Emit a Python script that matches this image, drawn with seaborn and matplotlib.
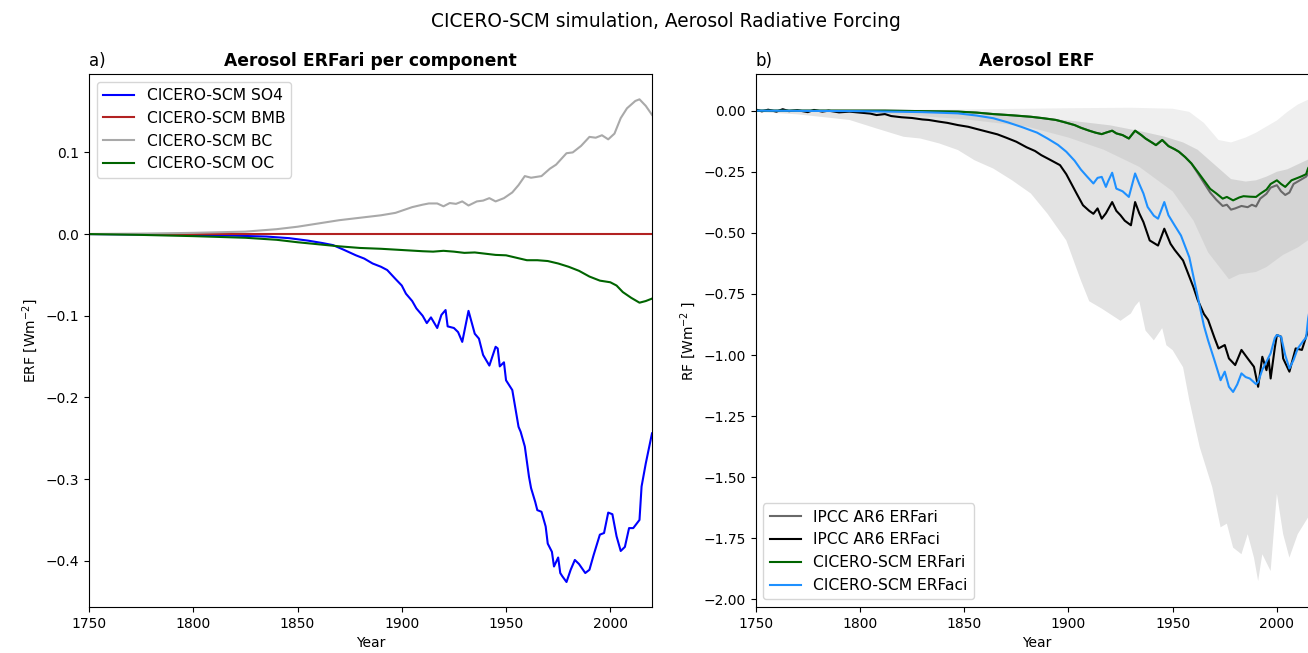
import numpy as np
import matplotlib
matplotlib.use("Agg")
import matplotlib.pyplot as plt
import seaborn as sns

# ---------------- data ----------------
# Panel a) CICERO-SCM ERFari per component
SO4_YEARS = [1750, 1775, 1800, 1820, 1835, 1846, 1855, 1862, 1867, 1872, 1878, 1882, 1886, 1890,
             1893, 1897, 1900, 1902, 1905, 1907, 1910, 1912, 1914, 1917, 1919, 1921, 1922, 1925,
             1927, 1929, 1932, 1935, 1937, 1939, 1942, 1945, 1946, 1947, 1949, 1950, 1953, 1956,
             1957, 1959, 1961, 1962, 1964, 1965, 1967, 1969, 1970, 1972, 1973, 1975, 1976, 1977,
             1979, 1981, 1983, 1985, 1988, 1990, 1992, 1995, 1997, 1999, 2001, 2003, 2005, 2007,
             2009, 2011, 2014, 2015, 2017, 2020]
SO4_ERF = [0.0, -0.0005, -0.001, -0.002, -0.003, -0.005, -0.008, -0.011, -0.0135, -0.019, -0.026,
           -0.030, -0.036, -0.040, -0.044, -0.055, -0.063, -0.073, -0.082, -0.091, -0.100, -0.109,
           -0.102, -0.115, -0.099, -0.093, -0.113, -0.115, -0.120, -0.132, -0.094, -0.122, -0.128,
           -0.148, -0.161, -0.138, -0.140, -0.162, -0.157, -0.179, -0.191, -0.236, -0.242, -0.260,
           -0.297, -0.311, -0.328, -0.338, -0.340, -0.358, -0.379, -0.389, -0.407, -0.396, -0.415,
           -0.419, -0.426, -0.411, -0.399, -0.404, -0.415, -0.411, -0.393, -0.368, -0.366, -0.341,
           -0.343, -0.370, -0.388, -0.383, -0.360, -0.360, -0.350, -0.309, -0.281, -0.244]

BMB_YEARS = [1750, 2020]
BMB_ERF = [0.0, 0.0]

BC_YEARS = [1750, 1775, 1800, 1825, 1840, 1850, 1860, 1870, 1880, 1890, 1897, 1905, 1910, 1913,
            1917, 1920, 1923, 1926, 1929, 1932, 1936, 1939, 1942, 1945, 1949, 1953, 1956, 1959,
            1962, 1967, 1971, 1974, 1979, 1982, 1986, 1990, 1993, 1996, 1999, 2002, 2005, 2008,
            2012, 2014, 2017, 2020]
BC_ERF = [0.0, 0.0005, 0.0015, 0.003, 0.006, 0.009, 0.013, 0.017, 0.020, 0.023, 0.026, 0.033,
          0.036, 0.0375, 0.0375, 0.034, 0.038, 0.037, 0.040, 0.035, 0.040, 0.041, 0.044, 0.040,
          0.044, 0.051, 0.060, 0.071, 0.069, 0.071, 0.080, 0.085, 0.099, 0.100, 0.108, 0.119,
          0.118, 0.121, 0.116, 0.123, 0.142, 0.154, 0.163, 0.165, 0.157, 0.146]

OC_YEARS = [1750, 1775, 1800, 1825, 1840, 1850, 1860, 1870, 1880, 1890, 1900, 1910, 1915, 1920,
            1925, 1930, 1935, 1940, 1945, 1950, 1955, 1960, 1965, 1970, 1975, 1980, 1985, 1990,
            1995, 2000, 2003, 2006, 2010, 2014, 2017, 2020]
OC_ERF = [0.0, -0.001, -0.0025, -0.0045, -0.007, -0.010, -0.0125, -0.015, -0.017, -0.018,
          -0.0195, -0.021, -0.0215, -0.0205, -0.0215, -0.023, -0.0225, -0.024, -0.0255, -0.026,
          -0.029, -0.032, -0.032, -0.033, -0.036, -0.040, -0.045, -0.052, -0.057, -0.059, -0.063,
          -0.071, -0.078, -0.084, -0.082, -0.079]

# Panel b) total aerosol ERF
CARI_YEARS = [1750, 1812, 1830, 1847, 1856, 1864, 1873, 1882, 1888, 1894, 1898, 1903, 1906, 1910,
              1913, 1916, 1918, 1921, 1923, 1926, 1929, 1932, 1935, 1937, 1940, 1942, 1945, 1948,
              1951, 1953, 1956, 1959, 1962, 1965, 1968, 1971, 1974, 1976, 1979, 1982, 1984, 1987,
              1990, 1992, 1995, 1997, 2000, 2002, 2004, 2007, 2010, 2012, 2014, 2015, 2017, 2020]
CARI_ERF = [0.0, 0.0, -0.002, -0.004, -0.008, -0.014, -0.019, -0.025, -0.031, -0.038, -0.047,
            -0.059, -0.070, -0.082, -0.090, -0.096, -0.090, -0.082, -0.093, -0.100, -0.114, -0.082,
            -0.100, -0.114, -0.130, -0.141, -0.120, -0.145, -0.158, -0.168, -0.190, -0.216, -0.250,
            -0.285, -0.320, -0.339, -0.360, -0.353, -0.367, -0.355, -0.350, -0.352, -0.353, -0.340,
            -0.323, -0.300, -0.285, -0.300, -0.312, -0.285, -0.275, -0.268, -0.260, -0.235, -0.210,
            -0.180]

IARI_YEARS = [1750, 1812, 1830, 1847, 1856, 1864, 1873, 1882, 1888, 1894, 1898, 1903, 1906, 1910,
              1913, 1916, 1918, 1921, 1923, 1926, 1929, 1932, 1935, 1937, 1940, 1942, 1945, 1948,
              1951, 1953, 1956, 1959, 1962, 1965, 1968, 1971, 1974, 1976, 1978, 1980, 1983, 1986,
              1988, 1990, 1992, 1995, 1997, 2000, 2002, 2004, 2006, 2008, 2010, 2012, 2014, 2016,
              2019]
IARI_ERF = [0.0, 0.0, -0.002, -0.004, -0.008, -0.014, -0.019, -0.025, -0.031, -0.038, -0.047,
            -0.059, -0.070, -0.082, -0.090, -0.096, -0.090, -0.082, -0.093, -0.100, -0.114, -0.082,
            -0.100, -0.114, -0.130, -0.141, -0.120, -0.145, -0.158, -0.168, -0.190, -0.216, -0.255,
            -0.295, -0.335, -0.365, -0.390, -0.385, -0.405, -0.400, -0.390, -0.395, -0.385, -0.392,
            -0.360, -0.340, -0.315, -0.305, -0.330, -0.345, -0.335, -0.300, -0.290, -0.280, -0.270,
            -0.245, -0.220]

IACI_YEARS = [1750, 1753, 1756, 1760, 1763, 1766, 1770, 1775, 1778, 1782, 1785, 1790, 1795, 1800,
              1805, 1808, 1812, 1815, 1820, 1825, 1830, 1833, 1838, 1842, 1847, 1852, 1856, 1861,
              1866, 1870, 1875, 1880, 1884, 1887, 1891, 1896, 1899, 1901, 1904, 1907, 1910, 1912,
              1914, 1916, 1918, 1921, 1923, 1925, 1927, 1930, 1932, 1934, 1936, 1939, 1943, 1946,
              1949, 1951, 1955, 1960, 1962, 1965, 1967, 1970, 1972, 1975, 1977, 1980, 1983, 1986,
              1989, 1991, 1993, 1995, 1996, 1997, 1999, 2000, 2002, 2003, 2006, 2009, 2012, 2014,
              2016, 2019]
IACI_ERF = [0.005, -0.003, 0.004, -0.004, 0.006, -0.002, 0.002, -0.006, 0.003, -0.004, 0.0,
            -0.007, -0.004, -0.008, -0.012, -0.018, -0.014, -0.022, -0.027, -0.030, -0.036, -0.038,
            -0.045, -0.050, -0.059, -0.066, -0.075, -0.086, -0.097, -0.110, -0.127, -0.150, -0.165,
            -0.182, -0.200, -0.223, -0.260, -0.292, -0.340, -0.387, -0.410, -0.422, -0.400, -0.442,
            -0.420, -0.374, -0.410, -0.428, -0.450, -0.469, -0.374, -0.420, -0.456, -0.531, -0.552,
            -0.483, -0.545, -0.570, -0.613, -0.723, -0.774, -0.832, -0.856, -0.928, -0.973, -0.959,
            -1.014, -1.041, -0.979, -1.014, -1.048, -1.130, -1.007, -1.062, -1.014, -1.096, -0.970,
            -0.918, -0.925, -1.014, -1.068, -0.973, -0.979, -0.925, -0.880, -0.840]

CACI_YEARS = [1750, 1800, 1830, 1847, 1856, 1864, 1871, 1878, 1885, 1890, 1895, 1899, 1903, 1906,
              1909, 1912, 1914, 1916, 1918, 1919, 1921, 1923, 1926, 1929, 1932, 1934, 1936, 1938,
              1941, 1943, 1946, 1948, 1951, 1954, 1958, 1960, 1963, 1965, 1967, 1970, 1973, 1975,
              1977, 1979, 1981, 1983, 1985, 1987, 1990, 1991, 1993, 1995, 1997, 1999, 2000, 2002,
              2004, 2006, 2008, 2010, 2013, 2014, 2015, 2017, 2020]
CACI_ERF = [0.0, -0.002, -0.006, -0.011, -0.020, -0.031, -0.048, -0.068, -0.090, -0.114, -0.140,
            -0.168, -0.205, -0.241, -0.270, -0.298, -0.275, -0.271, -0.312, -0.290, -0.254, -0.319,
            -0.330, -0.353, -0.257, -0.300, -0.339, -0.394, -0.430, -0.442, -0.374, -0.428, -0.470,
            -0.511, -0.600, -0.680, -0.800, -0.880, -0.940, -1.020, -1.103, -1.068, -1.130, -1.151,
            -1.120, -1.075, -1.090, -1.096, -1.119, -1.110, -1.060, -1.027, -0.993, -0.930, -0.918,
            -0.925, -1.000, -1.055, -1.020, -0.973, -0.938, -0.930, -0.850, -0.750, -0.620]

# uncertainty ranges (IPCC AR6, 5-95 %)
ARI_UP_YEARS = [1750, 1850, 1900, 1930, 1950, 1958, 1965, 1972, 1978, 1985, 1990, 1995, 2000,
                2005, 2010, 2015, 2020]
ARI_UP = [0.0, 0.005, 0.010, 0.012, 0.008, -0.005, -0.050, -0.120, -0.130, -0.110, -0.090,
          -0.065, -0.040, -0.005, 0.025, 0.045, 0.053]
ARI_LO_YEARS = [1750, 1800, 1850, 1880, 1900, 1917, 1934, 1950, 1960, 1967, 1977, 1982, 1990,
                1995, 2003, 2010, 2015, 2020]
ARI_LO = [0.0, -0.005, -0.035, -0.065, -0.110, -0.160, -0.230, -0.330, -0.450, -0.580, -0.690,
          -0.670, -0.660, -0.640, -0.590, -0.560, -0.530, -0.500]
ACI_UP_YEARS = [1750, 1800, 1850, 1880, 1900, 1920, 1935, 1946, 1955, 1962, 1970, 1978, 1985,
                1990, 1995, 2000, 2005, 2010, 2015, 2020]
ACI_UP = [0.0, -0.003, -0.012, -0.025, -0.040, -0.060, -0.085, -0.106, -0.130, -0.160, -0.220,
          -0.280, -0.290, -0.285, -0.270, -0.250, -0.240, -0.220, -0.200, -0.180]
ACI_LO_YEARS = [1750, 1770, 1795, 1808, 1821, 1829, 1838, 1847, 1855, 1864, 1873, 1882, 1890,
                1899, 1906, 1910, 1916, 1925, 1930, 1932, 1934, 1937, 1941, 1945, 1947, 1950,
                1955, 1958, 1963, 1969, 1973, 1976, 1979, 1983, 1986, 1989, 1991, 1993, 1997,
                2000, 2003, 2006, 2010, 2015, 2020]
ACI_LO = [-0.005, -0.015, -0.038, -0.073, -0.107, -0.114, -0.134, -0.161, -0.203, -0.237, -0.285,
          -0.339, -0.422, -0.531, -0.695, -0.780, -0.810, -0.860, -0.830, -0.800, -0.780, -0.900,
          -0.940, -0.890, -0.960, -0.980, -1.050, -1.185, -1.377, -1.541, -1.705, -1.690, -1.788,
          -1.815, -1.733, -1.829, -1.925, -1.815, -1.884, -1.568, -1.733, -1.829, -1.733, -1.664,
          -1.600]

# ---------------- figure ----------------
plt.rcParams['font.family'] = ['DejaVu Sans']
W, H = 1308, 653
fig = plt.figure(figsize=(W / 100, H / 100), dpi=100)
ax1 = fig.add_axes([89 / W, 1 - 607 / H, 563 / W, 533 / H])
ax2 = fig.add_axes([755.6 / W, 1 - 607 / H, 563 / W, 533 / H])

# panel a
sns.lineplot(x=SO4_YEARS, y=SO4_ERF, ax=ax1, color='blue', label='CICERO-SCM SO4')
sns.lineplot(x=BMB_YEARS, y=BMB_ERF, ax=ax1, color='firebrick', label='CICERO-SCM BMB')
sns.lineplot(x=BC_YEARS, y=BC_ERF, ax=ax1, color='darkgray', label='CICERO-SCM BC')
sns.lineplot(x=OC_YEARS, y=OC_ERF, ax=ax1, color='darkgreen', label='CICERO-SCM OC')
ax1.set_xlim(1750, 2020)
ax1.set_ylim(-0.4566, 0.196)
ax1.set_xlabel('Year')
ax1.set_ylabel('ERF [Wm$^{-2}$]')
ax1.set_title('Aerosol ERFari per component', fontweight='bold', fontsize=12.3)
ax1.set_title('a)', loc='left')
ax1.legend(loc='upper left', fontsize=11.2)

# panel b: uncertainty shading
ari_x = np.concatenate([ARI_UP_YEARS, ARI_LO_YEARS[::-1]])
ari_y = np.concatenate([ARI_UP, ARI_LO[::-1]])
aci_x = np.concatenate([ACI_UP_YEARS, ACI_LO_YEARS[::-1]])
aci_y = np.concatenate([ACI_UP, ACI_LO[::-1]])
ax2.fill(ari_x, ari_y, color='k', alpha=0.063, lw=0, zorder=0)
ax2.fill(aci_x, aci_y, color='k', alpha=0.11, lw=0, zorder=0)

sns.lineplot(x=IARI_YEARS, y=IARI_ERF, ax=ax2, color='dimgray', label='IPCC AR6 ERFari')
sns.lineplot(x=IACI_YEARS, y=IACI_ERF, ax=ax2, color='black', label='IPCC AR6 ERFaci')
sns.lineplot(x=CARI_YEARS, y=CARI_ERF, ax=ax2, color='darkgreen', label='CICERO-SCM ERFari')
sns.lineplot(x=CACI_YEARS, y=CACI_ERF, ax=ax2, color='dodgerblue', label='CICERO-SCM ERFaci')
ax2.set_xlim(1750, 2020)
ax2.set_ylim(-2.031, 0.150)
ax2.set_xlabel('Year')
ax2.set_ylabel('RF [Wm$^{-2}$ ]')
ax2.set_title('Aerosol ERF', fontweight='bold', fontsize=12.3)
ax2.set_title('b)', loc='left')
ax2.legend(loc='lower left', fontsize=11.2)

fig.suptitle('CICERO-SCM simulation, Aerosol Radiative Forcing', fontsize=13.4,
             x=665.5 / W, y=0.982)
fig.savefig('out.png', dpi=100)
